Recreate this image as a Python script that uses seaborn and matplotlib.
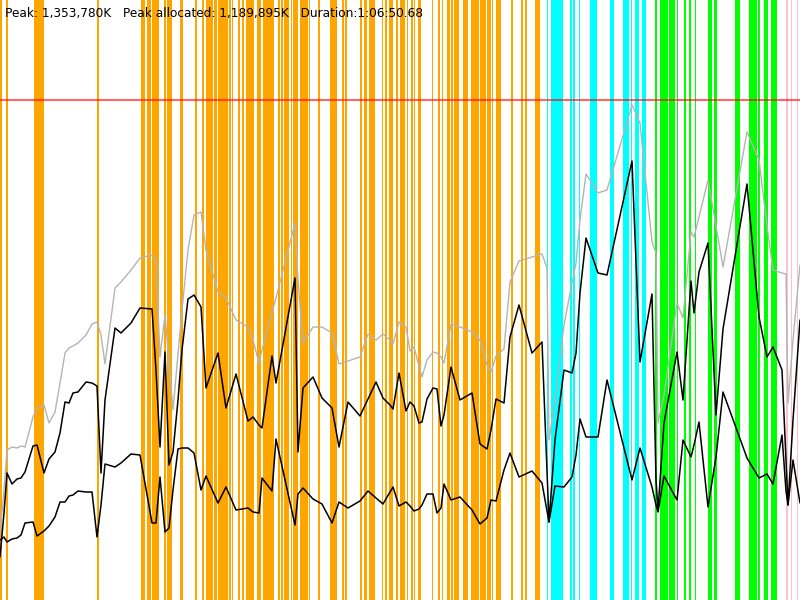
import numpy as np
import pandas as pd
import matplotlib
matplotlib.use("Agg")
import matplotlib.pyplot as plt
import seaborn as sns

# time axis in ~5 s ticks (800 ticks = 1:06:50.68)
t = [0, 4, 7, 12, 17, 21, 25, 33, 37, 44, 49, 55, 60, 65, 69, 73, 78, 86, 92, 97,
     101, 105, 115, 121, 131, 140, 152, 156, 160, 165, 169, 173, 178, 182, 188, 194,
     201, 206, 218, 226, 236, 248, 253, 259, 262, 272, 276, 295, 298, 303, 313, 322,
     332, 339, 348, 360, 368, 376, 383, 390, 393, 399, 406, 410, 414, 419, 422, 427,
     433, 437, 441, 444, 451, 460, 472, 480, 487, 491, 496, 504, 510, 519, 532, 542,
     547, 549, 555, 564, 572, 576, 580, 586, 598, 607, 632, 640, 652, 656, 658, 664,
     677, 683, 691, 694, 699, 708, 716, 723, 747, 759, 767, 773, 782, 786, 788, 793, 800]

# memory, in units of ~2.7 MB
total = [67, 110, 150, 153, 152, 154, 153, 183, 192, 195, 177, 188, 217, 247, 252, 254, 257, 265, 276, 278,
         265, 236, 312, 318, 330, 342, 345, 340, 243, 285, 238, 190, 246, 290, 350, 385,
         388, 350, 308, 302, 280, 273, 260, 237, 250, 288, 302, 377, 320, 257, 273, 273,
         267, 236, 239, 243, 266, 260, 266, 260, 256, 278, 273, 249, 253, 234, 223, 240,
         248, 247, 243, 237, 276, 273, 268, 260, 235, 228, 244, 251, 318, 339, 343, 346,
         332, 160, 200, 275, 317, 337, 380, 426, 407, 410, 495, 477, 358, 347, 177, 205,
         297, 282, 368, 363, 383, 420, 374, 333, 468, 440, 374, 330, 327, 326, 197, 260, 335]
allocated = [43, 87, 127, 116, 121, 122, 128, 154, 155, 127, 141, 148, 167, 198, 197, 207, 208, 218, 217, 214,
             127, 200, 272, 267, 277, 292, 291, 230, 153, 248, 135, 148, 200, 250, 301, 305,
             293, 212, 247, 192, 226, 179, 183, 175, 172, 244, 217, 322, 148, 212, 223, 202,
             192, 153, 198, 184, 201, 218, 202, 195, 191, 227, 189, 198, 194, 177, 178, 201,
             212, 211, 174, 185, 233, 200, 207, 156, 151, 170, 201, 197, 263, 295, 247, 258,
             129, 78, 160, 230, 227, 247, 307, 362, 327, 325, 439, 238, 306, 120, 90, 177,
             248, 200, 319, 287, 328, 357, 185, 271, 416, 283, 243, 253, 230, 140, 95, 180, 280]
live = [60, 63, 58, 61, 62, 65, 77, 78, 64, 69, 74, 83, 98, 98, 104, 105, 109, 108, 108, 63,
        95, 136, 133, 137, 146, 145, 77, 77, 123, 68, 72, 110, 151, 152, 152, 147,
        110, 124, 97, 113, 90, 92, 88, 87, 122, 109, 161, 75, 106, 112, 101, 96,
        77, 98, 92, 99, 109, 102, 96, 108, 113, 94, 98, 94, 89, 91, 95, 106,
        106, 87, 92, 116, 100, 103, 90, 76, 82, 100, 99, 130, 147, 123, 129, 117,
        89, 78, 114, 113, 123, 145, 181, 163, 163, 220, 120, 152, 113, 95, 88, 124,
        100, 160, 143, 155, 178, 93, 143, 208, 142, 122, 126, 116, 165, 109, 95, 140, 97]

limit = 500

# phase markers (start, end)
orange_spans = [(0, 1.7), (6, 8), (34, 44), (97, 99), (141, 145), (147, 151), (152, 159), (164, 166),
                (167, 172), (180, 183), (195, 197), (202, 204), (206, 213), (214, 217), (218, 228),
                (229, 231), (232, 233), (238, 240), (242, 244), (246, 254), (257, 261), (263, 274),
                (278, 280), (281, 283), (284, 289), (291, 292), (293, 298), (300, 308), (309, 310),
                (318, 320), (330, 337), (342, 344), (345, 347), (360, 362), (364, 367), (369, 375),
                (382, 383), (385, 387), (389, 393), (396, 398), (400, 405), (407, 408), (411, 413),
                (414, 415), (418, 421), (432, 433), (438, 440), (442, 443), (447, 450), (451, 453),
                (454, 459), (463, 468), (471, 479), (480, 486), (487, 491), (492, 493), (496, 501),
                (511, 513), (521, 523), (525, 527), (535, 540)]
cyan_spans = [(547, 548), (551, 563), (570, 572), (573, 575), (579, 580), (590, 597), (610, 614),
              (623, 629), (631, 632), (635, 639), (642, 646)]
green_spans = [(655, 657), (660, 668), (669, 675), (677, 678), (684, 686), (689, 691), (695, 696),
               (708, 712), (714, 717), (735, 740), (749, 757), (758, 760), (764, 768), (771, 777)]
pink_spans = [(786, 788), (791, 792), (797, 798)]

df = pd.DataFrame({"t": t, "total": total, "allocated": allocated, "live": live})

sns.set_style("white")
fig = plt.figure(figsize=(8, 6), dpi=100)
ax = fig.add_axes([0, 0, 1, 1])

pad = 0.3
for spans, col in [(orange_spans, "#ffa500"), (cyan_spans, "#00ffff"),
                   (green_spans, "#00ff00"), (pink_spans, "#ffc0cb")]:
    for a, b in spans:
        ax.axvspan(a - pad, b + pad, color=col, lw=0, zorder=1)

ax.axhline(limit, color="red", alpha=0.6, lw=1.5, zorder=2)

sns.lineplot(data=df, x="t", y="total", color="#b4b4b4", lw=1, ax=ax, zorder=3)
sns.lineplot(data=df, x="t", y="allocated", color="black", lw=1.1, ax=ax, zorder=4)
sns.lineplot(data=df, x="t", y="live", color="black", lw=1.1, ax=ax, zorder=4)

ax.set_xlim(0, 800)
ax.set_ylim(0, 600)
ax.axis("off")

fig.text(5 / 800, 1 - 17 / 600,
         "Peak: 1,353,780K   Peak allocated: 1,189,895K   Duration:1:06:50.68",
         fontsize=8.7, color="black", family="DejaVu Sans", zorder=10)

fig.savefig("out.png", dpi=100)
